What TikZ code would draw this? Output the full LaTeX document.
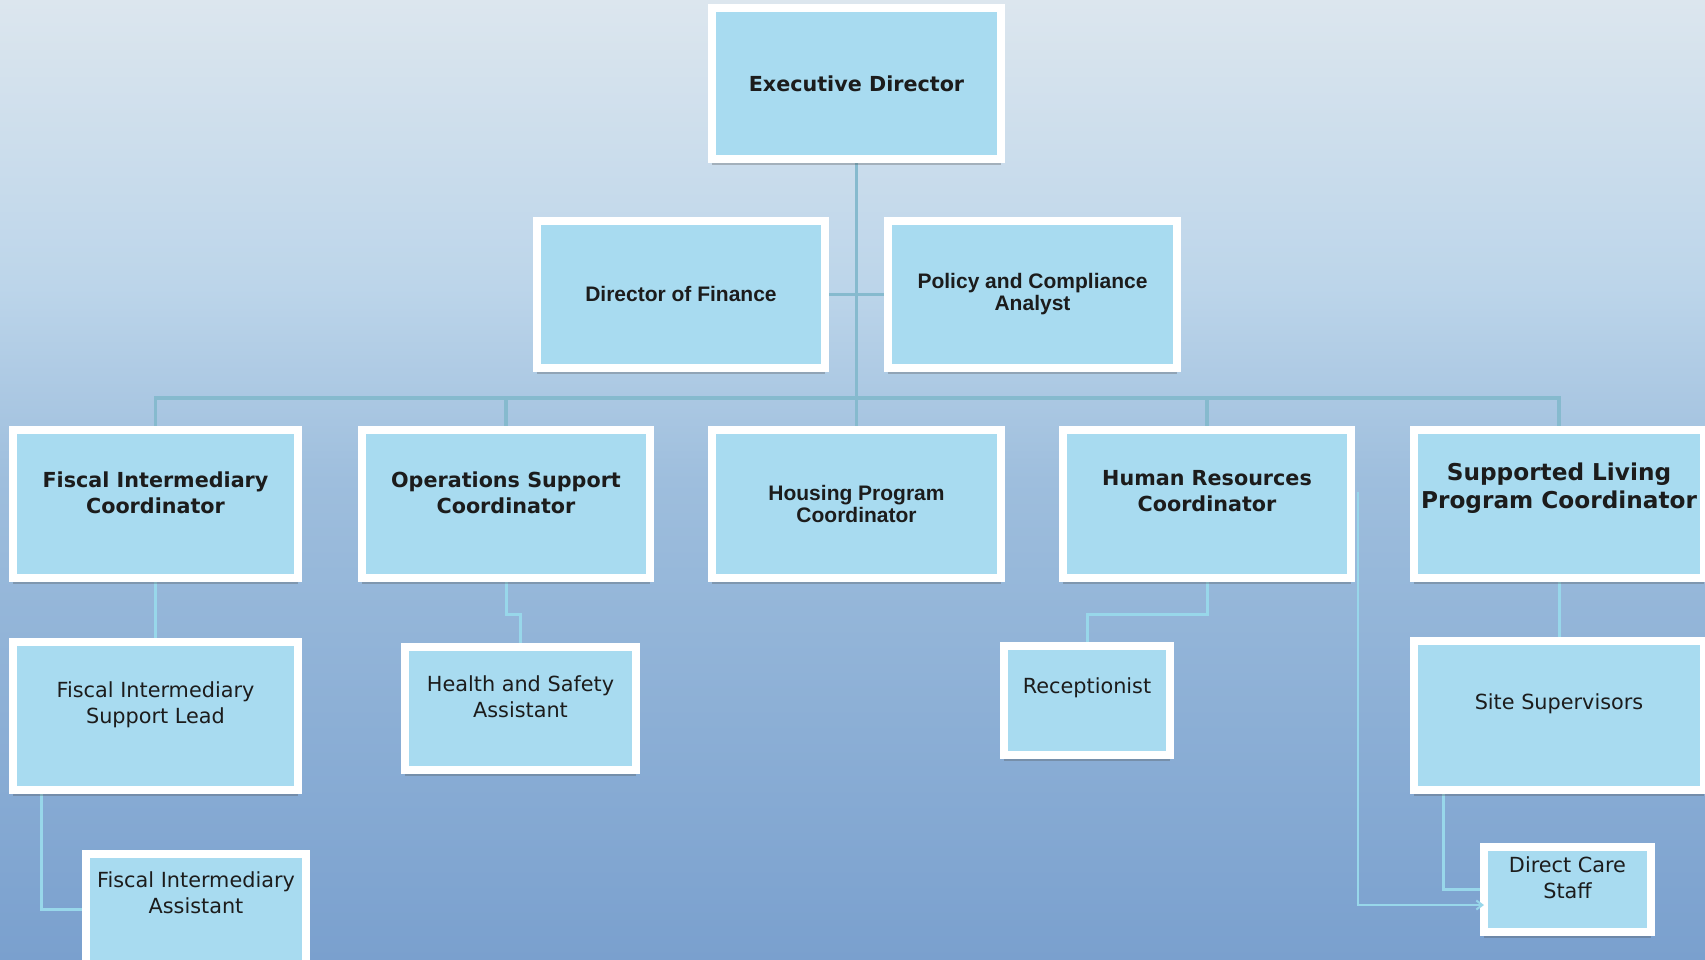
\documentclass[tikz,border=0pt]{standalone}
\usepackage{fontspec}
\usetikzlibrary{shadows,arrows.meta,calc}

\newfontfamily\sansv{DejaVu Sans}
\newfontfamily\sansa{Liberation Sans}

\definecolor{boxfill}{HTML}{A8DBF0}
\definecolor{busline}{HTML}{86BACE}
\definecolor{subline}{HTML}{98D7EA}
\definecolor{ink}{HTML}{1C1C1C}
\definecolor{bgtop}{HTML}{DCE6EE}
\definecolor{bgupper}{HTML}{BCD5EA}
\definecolor{bgmid}{HTML}{9EBEDD}
\definecolor{bgbot}{HTML}{7AA0CE}
% the path's bounding box spans 25bp..75bp of the shading
\pgfdeclareverticalshading{orgbg}{100bp}{color(0bp)=(bgbot); color(25bp)=(bgbot); color(50bp)=(bgmid); color(60bp)=(bgupper); color(75bp)=(bgtop); color(100bp)=(bgtop)}

\pgfdeclarelayer{deep}
\pgfdeclarelayer{links}
\pgfsetlayers{deep,links,main}

\tikzset{
  orgbox/.style={rectangle, fill=boxfill, draw=white, line width=8pt, inner sep=0pt,
    drop shadow={shadow xshift=0pt, shadow yshift=-6pt, opacity=0.3, fill=black!70}},
  titlebold/.style={font=\sansv\bfseries\fontsize{20.7}{26}\selectfont, align=center, text=ink, inner sep=0pt},
  titlebig/.style={font=\sansv\bfseries\fontsize{23.2}{28}\selectfont, align=center, text=ink, inner sep=0pt},
  titlearial/.style={font=\sansa\bfseries\fontsize{21}{22}\selectfont, align=center, text=ink, inner sep=0pt},
  titleplain/.style={font=\sansv\fontsize{20.8}{26}\selectfont, align=center, text=ink, inner sep=0pt},
  bus/.style={draw=busline, line width=3.5pt},
  sub/.style={draw=subline, line width=3pt},
  thin/.style={draw=subline, line width=2pt}
}

\begin{document}
\begin{tikzpicture}[x=1pt, y=-1pt]
\useasboundingbox (0,0) rectangle (1705,959);

% background
\begin{pgfonlayer}{deep}
  \path[shading=orgbg] (0,0) rectangle (1705,959);
\end{pgfonlayer}

% top levels
\node[orgbox, minimum width=289pt, minimum height=151pt] (exec) at (856.5,83.5) {};
\node[titlebold] (exec-t) at (856.5,84) {Executive Director};

\node[orgbox, minimum width=288pt, minimum height=147pt] (fin) at (681,294.5) {};
\node[titlearial] (fin-t) at (681,294) {Director of Finance};

\node[orgbox, minimum width=289pt, minimum height=147pt] (pol) at (1032.5,294.5) {};
\node[titlearial] (pol-t) at (1032.5,294) {Policy and Compliance\\Analyst};

% coordinators
\node[orgbox, minimum width=285pt, minimum height=148pt] (fic) at (155.5,504) {};
\node[titlebold] (fic-t) at (155.5,493) {Fiscal Intermediary\\Coordinator};

\node[orgbox, minimum width=288pt, minimum height=148pt] (ops) at (506,504) {};
\node[titlebold] (ops-t) at (506,493) {Operations Support\\Coordinator};

\node[orgbox, minimum width=289pt, minimum height=148pt] (hou) at (856.5,504) {};
\node[titlearial] (hou-t) at (856.5,504) {Housing Program\\Coordinator};

\node[orgbox, minimum width=288pt, minimum height=148pt] (hr) at (1207,504) {};
\node[titlebold] (hr-t) at (1207,491) {Human Resources\\Coordinator};

\node[orgbox, minimum width=290pt, minimum height=148pt] (slp) at (1559,504) {};
\node[titlebig] (slp-t) at (1559,488) {Supported Living\\Program Coordinator};

% staff
\node[orgbox, minimum width=285pt, minimum height=148pt] (fisl) at (155.5,716) {};
\node[titleplain] (fisl-t) at (155.5,705) {Fiscal Intermediary\\Support Lead};

\node[orgbox, minimum width=231pt, minimum height=123pt] (hsa) at (520.5,708.5) {};
\node[titleplain] (hsa-t) at (520.5,697) {Health and Safety\\Assistant};

\node[orgbox, minimum width=166pt, minimum height=109pt] (rec) at (1087,700.5) {};
\node[titleplain] (rec-t) at (1087,688) {Receptionist};

\node[orgbox, minimum width=290pt, minimum height=149pt] (site) at (1559,715.5) {};
\node[titleplain] (site-t) at (1559,704) {Site Supervisors};

\node[orgbox, minimum width=220pt, minimum height=110pt] (fia) at (196,909) {};
\node[titleplain] (fia-t) at (196,893) {Fiscal Intermediary\\Assistant};

\node[orgbox, minimum width=167pt, minimum height=85pt] (dcs) at (1567.5,889.5) {};
\node[titleplain] (dcs-t) at (1567.5,878) {Direct Care\\Staff};

% reporting lines
\coordinate (bus) at (856.5,398);
\begin{pgfonlayer}{links}
  \draw[bus] (exec.south) -- (hou.north);
  \draw[bus] (fin.east) -- (pol.west);
  \draw[bus] (fic.north) -- (fic.north |- bus) -- (slp.north |- bus) -- (slp.north);
  \draw[bus] (ops.north) -- (ops.north |- bus);
  \draw[bus] (hr.north) -- (hr.north |- bus);

  \draw[sub] (fic.south) -- (fisl.north);
  \draw[sub] (ops.south) -- ++(0,32) -| (hsa.north);
  \draw[sub] (hr.south) -- ++(0,32) -| (rec.north);
  \draw[sub] (slp.north |- slp.south) -- (site.north);
  \draw[sub] ([xshift=32pt]fisl.south west) |- (fia.west);
  \draw[sub] ([xshift=33pt]site.south west) |- (dcs.west);
\end{pgfonlayer}

\draw[thin, -{Straight Barb[length=6pt,width=9pt]}] ([shift={(3pt,12pt)}]hr.east) |- ([shift={(4pt,-15.5pt)}]dcs.west);
\end{tikzpicture}
\end{document}
